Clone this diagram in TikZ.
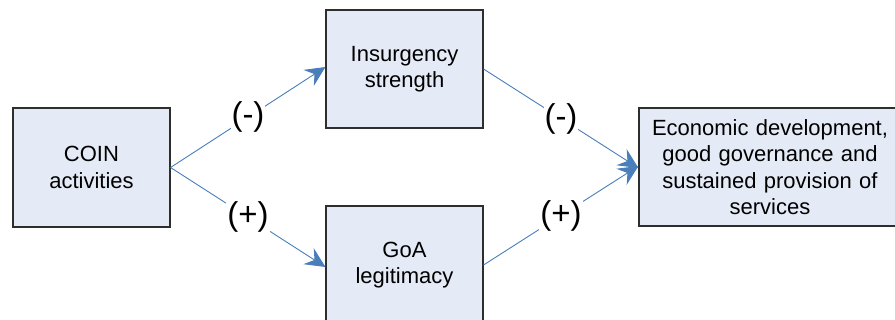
\documentclass[tikz,border=0pt]{standalone}
\usepackage{fontspec}
\setmainfont{Liberation Sans}
\usetikzlibrary{arrows.meta}
\definecolor{boxfill}{HTML}{E5EBF6}
\definecolor{boxline}{HTML}{2E2E2E}
\definecolor{arrowblue}{HTML}{4A7EBB}
\tikzset{
  factor/.style={draw=boxline, fill=boxfill, line width=1.1pt, inner sep=0pt,
    align=center, font=\fontsize{22}{26.5}\selectfont},
  link/.style={draw=arrowblue, line width=0.9pt,
    -{Stealth[length=20pt,width=19pt,inset=7pt]}},
  sign/.style={fill=white, inner sep=1pt, font=\fontsize{33}{36}\selectfont}
}
\begin{document}
\begin{tikzpicture}[x=1pt,y=-1pt]
\useasboundingbox (0,0) rectangle (895,320);
\clip (0,0) rectangle (895,320);
\node[factor, minimum width=157pt, minimum height=119pt] (coin) at (91.5,167.5) {COIN\\activities};
\node[factor, minimum width=157pt, minimum height=118pt] (ins) at (404.5,69) {Insurgency\\strength};
\node[factor, minimum width=157pt, minimum height=118pt] (goa) at (404.5,265) {GoA\\legitimacy};
\node[factor, minimum width=262pt, minimum height=118pt, text width=250pt] (eco) at (770,167) {Economic development,\\good governance and\\sustained provision of\\services};
\draw[link] (coin.east) -- node[sign, pos=0.5] (s1) {(-)} ([yshift=2pt]ins.west);
\draw[link] (coin.east) -- node[sign, pos=0.5] (s2) {(+)} ([yshift=-2pt]goa.west);
\draw[link] (ins.east) -- node[sign, pos=0.5] (s3) {(-)} ([yshift=-1pt]eco.west);
\draw[link] (goa.east) -- node[sign, pos=0.5] (s4) {(+)} ([yshift=1pt]eco.west);
\end{tikzpicture}
\end{document}
